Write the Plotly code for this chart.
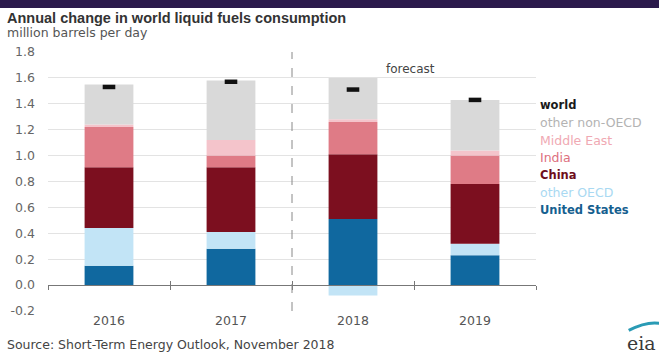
import plotly.graph_objects as go

# Annual change in world liquid fuels consumption, million barrels per day
years = ["2016", "2017", "2018", "2019"]

united_states = [0.15, 0.28, 0.51, 0.23]
other_oecd = [0.29, 0.13, -0.08, 0.09]
china = [0.47, 0.50, 0.50, 0.46]
india = [0.31, 0.09, 0.25, 0.22]
middle_east = [0.02, 0.12, 0.02, 0.04]
other_non_oecd = [0.31, 0.46, 0.32, 0.39]
world = [1.53, 1.57, 1.51, 1.43]

y_ticks = [-0.2, 0.0, 0.2, 0.4, 0.6, 0.8, 1.0, 1.2, 1.4, 1.6, 1.8]

series = [
    ("United States", united_states, "#10689f"),
    ("other OECD", other_oecd, "#c2e4f6"),
    ("China", china, "#7c0f1f"),
    ("India", india, "#df7b86"),
    ("Middle East", middle_east, "#f4c4cb"),
    ("other non-OECD", other_non_oecd, "#d9d9d9"),
]

legend_items = [
    ("world", "#1a1a1a", True),
    ("other non-OECD", "#b3b3b3", False),
    ("Middle East", "#f0a9b3", False),
    ("India", "#dd6f7e", False),
    ("China", "#6e0d1b", True),
    ("other OECD", "#a9d9f2", False),
    ("United States", "#15608f", True),
]

SANS = "DejaVu Sans"

fig = go.Figure()

for name, vals, color in series:
    fig.add_trace(go.Bar(
        x=years, y=vals, name=name, marker=dict(color=color, line=dict(width=0)),
        hoverinfo="skip",
    ))

fig.add_trace(go.Scatter(
    x=years, y=world, mode="markers", name="world",
    marker=dict(symbol="line-ew", size=9, line=dict(color="#111111", width=4.5)),
    hoverinfo="skip",
))

# world total labels above each stacked column
pos_tops = [sum(max(s[1][i], 0) for s in series) for i in range(len(years))]
for yr, top, w in zip(years, pos_tops, world):
    fig.add_annotation(x=yr, y=top, text=f"{w:.1f}", showarrow=False,
                       yanchor="bottom", yshift=6,
                       font=dict(size=11, color="#444444", family=SANS))

fig.add_annotation(x=2.25, y=1.67, text="forecast", showarrow=False,
                   xanchor="left", font=dict(size=12, color="#444444", family=SANS))

# forecast divider
fig.add_shape(type="line", x0=1.5, x1=1.5, xref="x", y0=0, y1=1, yref="paper",
              line=dict(color="#888888", width=1, dash="dash"))

# label column to the right of the plot
for i, (label, color, bold) in enumerate(legend_items):
    txt = f"<b>{label}</b>" if bold else label
    fig.add_annotation(xref="paper", yref="paper", x=1.004, y=0.795 - i * 0.0676,
                       text=txt, showarrow=False, xanchor="left", yanchor="middle",
                       font=dict(size=11.5 if bold else 12.5, color=color, family=SANS))

# title block
fig.add_annotation(xref="paper", yref="paper", x=-0.088, y=1.131,
                   text="<b>Annual change in world liquid fuels consumption</b>",
                   showarrow=False, xanchor="left", yanchor="middle",
                   font=dict(size=14.5, color="#333333", family="Liberation Sans, Arial"))
fig.add_annotation(xref="paper", yref="paper", x=-0.088, y=1.077,
                   text="million barrels per day",
                   showarrow=False, xanchor="left", yanchor="middle",
                   font=dict(size=12.5, color="#555555", family=SANS))
fig.add_annotation(xref="paper", yref="paper", x=-0.088, y=-0.131,
                   text="Source: Short-Term Energy Outlook, November 2018",
                   showarrow=False, xanchor="left", yanchor="middle",
                   font=dict(size=12.5, color="#444444", family=SANS))
fig.add_annotation(xref="paper", yref="paper", x=1.25, y=-0.125, text="eia",
                   showarrow=False, xanchor="right", yanchor="middle",
                   font=dict(size=19, color="#3a3a3a", family="DejaVu Serif"))
# arc of the logo above the lettering
fig.add_shape(type="path", xref="paper", yref="paper",
              path="M 1.19 -0.075 Q 1.23 -0.035 1.26 -0.05",
              line=dict(color="#2a9bb5", width=3), layer="above")

# top band
fig.add_shape(type="rect", xref="paper", yref="paper", x0=-0.2, x1=1.3, y0=1.17, y1=1.3,
              fillcolor="#2b1a4c", line=dict(width=0), layer="above")

fig.update_layout(
    width=659, height=356,
    margin=dict(l=48, r=123, t=52, b=45),
    barmode="relative", bargap=0.6,
    showlegend=False,
    plot_bgcolor="white", paper_bgcolor="white",
    font=dict(family=SANS, color="#555555", size=12),
    xaxis=dict(
        type="category", range=[-0.5, 3.5], showgrid=False, showline=False,
        ticks="", tickfont=dict(size=12.5, color="#555555", family=SANS),
    ),
    xaxis2=dict(
        type="category", overlaying="x", anchor="free", position=0.1,
        range=[-0.5, 3.5], showline=True, linecolor="#777777", linewidth=1,
        ticks="outside", ticklen=4, tickcolor="#777777", tickson="boundaries",
        showticklabels=False, showgrid=False, matches="x",
    ),
    xaxis3=dict(
        type="category", overlaying="x", anchor="free", position=0.1,
        range=[-0.5, 3.5], showline=False,
        ticks="inside", ticklen=4, tickcolor="#777777", tickson="boundaries",
        showticklabels=False, showgrid=False, matches="x",
    ),
    yaxis=dict(
        range=[-0.2, 1.8], tickvals=y_ticks, ticktext=[f"{v:.1f}" for v in y_ticks],
        showgrid=True, gridcolor="#e3e3e3", gridwidth=1, zeroline=False,
        ticks="", ticklabelstandoff=12, tickfont=dict(size=12.5, color="#666666", family=SANS),
    ),
)

# invisible traces that carry the boundary-tick axes at the zero line
fig.add_trace(go.Scatter(x=years, y=[None] * 4, xaxis="x2", showlegend=False, hoverinfo="skip"))
fig.add_trace(go.Scatter(x=years, y=[None] * 4, xaxis="x3", showlegend=False, hoverinfo="skip"))

fig.write_html("out.html")
